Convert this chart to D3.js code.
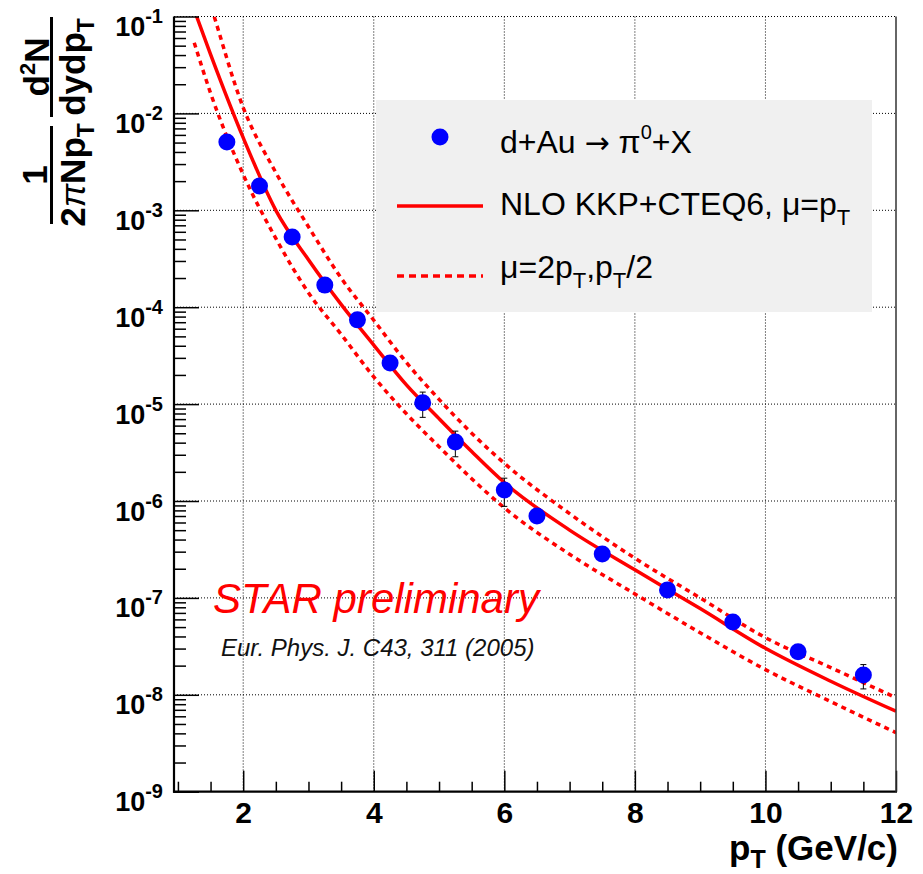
<!DOCTYPE html>
<html><head><meta charset="utf-8">
<script src="https://cdn.jsdelivr.net/npm/d3@7"></script>
<style>body{margin:0;background:#fff}</style>
</head><body>
<svg id="c" width="923" height="874"></svg>
<script>
// ---- data ----
const dataPt  = [1.75, 2.25, 2.75, 3.25, 3.75, 4.25, 4.75, 5.25, 6.0, 6.5, 7.5, 8.5, 9.5, 10.5, 11.5];
const dataVal = [5.07e-3, 1.78e-3, 5.3e-4, 1.69e-4, 7.4e-5, 2.65e-5, 1.03e-5, 4.06e-6, 1.30e-6, 7.0e-7, 2.84e-7, 1.21e-7, 5.65e-8, 2.78e-8, 1.6e-8];
const dataErr = [3e-4, 1e-4, 3e-5, 1e-5, 6e-6, 3e-6, 3e-6, 1.2e-6, 4.2e-7, 8e-8, 3e-8, 1.5e-8, 6e-9, 3e-9, 4.5e-9];

const curvePt    = [1.25, 1.5, 2.0, 2.5, 3.0, 3.5, 4.0, 4.5, 5.0, 5.5, 6.0, 7.0, 8.0, 9.0, 10.0, 11.0, 12.0];
const nloCentral = [1.17e-1, 4.07e-2, 5.62e-3, 1.00e-3, 3.09e-4, 1.07e-4, 4.07e-5, 1.58e-5, 7.08e-6, 3.24e-6, 1.55e-6, 5.01e-7, 1.95e-7, 7.76e-8, 3.02e-8, 1.38e-8, 6.76e-9];
const nloUpper   = [4.47e-1, 1.32e-1, 1.15e-2, 2.45e-3, 6.76e-4, 2.00e-4, 7.33e-5, 2.69e-5, 1.12e-5, 5.01e-6, 2.45e-6, 7.41e-7, 2.57e-7, 1.00e-7, 3.89e-8, 1.91e-8, 9.33e-9];
const nloLower   = [5.37e-2, 1.62e-2, 2.34e-3, 5.13e-4, 1.41e-4, 5.25e-5, 1.91e-5, 7.94e-6, 3.63e-6, 1.70e-6, 8.51e-7, 2.82e-7, 1.10e-7, 4.37e-8, 1.82e-8, 8.51e-9, 4.07e-9];

const xMajor = [2, 4, 6, 8, 10, 12];
const yExp   = [-9, -8, -7, -6, -5, -4, -3, -2, -1];

// ---- layout ----
const L = 174, R = 896, T = 16.5, B = 791.7;
const FONT = "'Liberation Sans', Arial, Helvetica, sans-serif";
const svg = d3.select("#c");
const x = d3.scaleLinear().domain([0.94, 12]).range([L, R]);
const y = d3.scaleLog().domain([1e-9, 1e-1]).range([B, T]);

const yMajor = yExp.map(e => Math.pow(10, e));
const yMinor = [];
yExp.slice(0, -1).forEach(e => { for (let k = 2; k <= 9; k++) yMinor.push(k * Math.pow(10, e)); });
const xMinor = d3.range(1, 12.01, 0.5).filter(v => !xMajor.includes(v));

// ---- grid ----
const grid = svg.append("g").attr("stroke", "#000").attr("stroke-width", 1).attr("stroke-dasharray", "1,2");
xMajor.filter(v => v < 12).forEach(v => grid.append("line").attr("x1", x(v)).attr("x2", x(v)).attr("y1", T).attr("y2", B));
yMajor.filter(v => v > 1e-9).forEach(v => grid.append("line").attr("x1", L).attr("x2", R).attr("y1", y(v)).attr("y2", y(v)));

// ---- legend box ----
svg.append("rect").attr("x", 376).attr("y", 100).attr("width", 496).attr("height", 212).attr("fill", "#f0f0f0");

// ---- curves ----
svg.append("clipPath").attr("id", "clip").append("rect").attr("x", L).attr("y", T).attr("width", R - L).attr("height", B - T);
const line = d3.line().x(d => x(d[0])).y(d => y(d[1])).curve(d3.curveMonotoneX);
const cg = svg.append("g").attr("clip-path", "url(#clip)").attr("fill", "none").attr("stroke", "#ff0000");
cg.append("path").attr("d", line(curvePt.map((p, i) => [p, nloUpper[i]]))).attr("stroke-width", 3.5).attr("stroke-dasharray", "5,4.5");
cg.append("path").attr("d", line(curvePt.map((p, i) => [p, nloLower[i]]))).attr("stroke-width", 3.5).attr("stroke-dasharray", "5,4.5");
cg.append("path").attr("d", line(curvePt.map((p, i) => [p, nloCentral[i]]))).attr("stroke-width", 3.5);

// ---- error bars and markers ----
const eb = svg.append("g").attr("stroke", "#000").attr("stroke-width", 1);
dataPt.forEach((p, i) => {
  const xc = x(p), y1 = y(dataVal[i] + dataErr[i]), y2 = y(dataVal[i] - dataErr[i]);
  eb.append("line").attr("x1", xc).attr("x2", xc).attr("y1", y1).attr("y2", y2);
  eb.append("line").attr("x1", xc - 3).attr("x2", xc + 3).attr("y1", y1).attr("y2", y1);
  eb.append("line").attr("x1", xc - 3).attr("x2", xc + 3).attr("y1", y2).attr("y2", y2);
});
svg.append("g").selectAll("circle").data(dataPt).join("circle")
  .attr("cx", d => x(d)).attr("cy", (d, i) => y(dataVal[i])).attr("r", 8.5).attr("fill", "#0000ff");

// ---- axes ----
const ax = svg.append("g");
ax.append("g").attr("transform", `translate(0,${B})`)
  .call(d3.axisBottom(x).tickValues(xMinor).tickSize(-10).tickFormat(""))
  .call(g => g.select(".domain").remove());
const xa = ax.append("g").attr("transform", `translate(0,${B})`)
  .call(d3.axisBottom(x).tickValues(xMajor).tickSize(-21).tickPadding(31).tickFormat(d3.format("d")));
xa.select(".domain").remove();
xa.selectAll("text").attr("font-family", FONT).attr("font-weight", "bold").attr("font-size", 30).attr("fill", "#000").attr("dy", 0);
ax.selectAll("line").attr("stroke", "#000").attr("stroke-width", 1.5);

ax.append("g").attr("transform", `translate(${L},0)`)
  .call(d3.axisLeft(y).tickValues(yMinor).tickSize(-12).tickFormat(""))
  .call(g => g.select(".domain").remove())
  .selectAll("line").attr("stroke", "#000").attr("stroke-width", 1.5);
const ya = ax.append("g").attr("transform", `translate(${L},0)`)
  .call(d3.axisLeft(y).tickValues(yMajor).tickSize(-25).tickFormat(""));
ya.select(".domain").remove();
ya.selectAll("line").attr("stroke", "#000").attr("stroke-width", 1.5);
ya.selectAll(".tick").each(function (d, i) {
  const t = d3.select(this).append("text").attr("x", -11).attr("y", 0).attr("text-anchor", "end")
    .attr("font-family", FONT).attr("font-weight", "bold").attr("fill", "#000");
  t.append("tspan").attr("font-size", 27).attr("dy", 19).text("10");
  t.append("tspan").attr("font-size", 20).attr("dy", -13).text(String(yExp[i]));
});

// frame
svg.append("line").attr("x1", L).attr("x2", L).attr("y1", T).attr("y2", B + 1).attr("stroke", "#000").attr("stroke-width", 2.2);
svg.append("line").attr("x1", L - 1).attr("x2", R + 1).attr("y1", B).attr("y2", B).attr("stroke", "#000").attr("stroke-width", 2.2);
svg.append("line").attr("x1", R).attr("x2", R).attr("y1", T).attr("y2", B).attr("stroke", "#333").attr("stroke-width", 1.5);
svg.append("line").attr("x1", L).attr("x2", R).attr("y1", T).attr("y2", T).attr("stroke", "#000").attr("stroke-width", 1).attr("stroke-dasharray", "1,2");

// ---- axis titles ----
const xt = svg.append("text").attr("x", 898).attr("y", 860).attr("text-anchor", "end")
  .attr("font-family", FONT).attr("font-weight", "bold").attr("font-size", 35).attr("fill", "#000");
xt.append("tspan").text("p");
xt.append("tspan").attr("font-size", 25).attr("dy", 8).text("T");
xt.append("tspan").attr("dy", -8).text(" (GeV/c)");

const yt = svg.append("g").attr("transform", "translate(51.5,0) rotate(-90)")
  .attr("font-family", FONT).attr("font-weight", "bold").attr("font-size", 35).attr("fill", "#000");
yt.append("line").attr("x1", -224).attr("x2", -126).attr("y1", 0).attr("y2", 0).attr("stroke", "#000").attr("stroke-width", 3);
yt.append("line").attr("x1", -117).attr("x2", -17).attr("y1", 0).attr("y2", 0).attr("stroke", "#000").attr("stroke-width", 3);
yt.append("text").attr("x", -175).attr("y", -5).attr("text-anchor", "middle").text("1");
const dn1 = yt.append("text").attr("x", -175).attr("y", 33).attr("text-anchor", "middle");
dn1.append("tspan").text("2");
dn1.append("tspan").attr("font-weight", "normal").attr("font-style", "italic").text("π");
dn1.append("tspan").text("Np");
dn1.append("tspan").attr("font-size", 23).attr("dy", 9).text("T");
const nm2 = yt.append("text").attr("x", -67).attr("y", -3).attr("text-anchor", "middle");
nm2.append("tspan").text("d");
nm2.append("tspan").attr("font-size", 22).attr("dy", -14).text("2");
nm2.append("tspan").attr("dy", 14).text("N");
const dn2 = yt.append("text").attr("x", -67).attr("y", 33).attr("text-anchor", "middle");
dn2.append("tspan").text("dydp");
dn2.append("tspan").attr("font-size", 23).attr("dy", 9).text("T");

// ---- legend content ----
const lg = svg.append("g").attr("font-family", FONT).attr("font-size", 32).attr("fill", "#000");
lg.append("circle").attr("cx", 440).attr("cy", 137).attr("r", 8.5).attr("fill", "#0000ff");
lg.append("line").attr("x1", 397).attr("x2", 483).attr("y1", 206).attr("y2", 206).attr("stroke", "#ff0000").attr("stroke-width", 3.5);
lg.append("line").attr("x1", 397).attr("x2", 483).attr("y1", 276).attr("y2", 276).attr("stroke", "#ff0000").attr("stroke-width", 3.5).attr("stroke-dasharray", "7,5");
const l1 = lg.append("text").attr("x", 500).attr("y", 153);
l1.append("tspan").text("d+Au ");
l1.append("tspan").attr("font-family", "'DejaVu Sans', sans-serif").attr("font-size", 30).text("\u2192");
l1.append("tspan").text(" \u03c0");
l1.append("tspan").attr("font-size", 20).attr("dy", -14).text("0");
l1.append("tspan").attr("dy", 14).text("+X");
const l2 = lg.append("text").attr("x", 500).attr("y", 215);
l2.append("tspan").text("NLO KKP+CTEQ6, \u03bc=p");
l2.append("tspan").attr("font-size", 22).attr("dy", 10).text("T");
const l3 = lg.append("text").attr("x", 500).attr("y", 278);
l3.append("tspan").text("\u03bc=2p");
l3.append("tspan").attr("font-size", 22).attr("dy", 10).text("T");
l3.append("tspan").attr("dy", -10).text(",p");
l3.append("tspan").attr("font-size", 22).attr("dy", 10).text("T");
l3.append("tspan").attr("dy", -10).text("/2");

// ---- annotations ----
svg.append("text").attr("x", 213).attr("y", 613).attr("font-family", FONT).attr("font-style", "italic")
  .attr("font-size", 42).attr("fill", "#ff0000").text("STAR preliminary");
svg.append("text").attr("x", 221).attr("y", 656).attr("font-family", FONT).attr("font-style", "italic")
  .attr("font-size", 24).attr("fill", "#111").text("Eur. Phys. J. C43, 311 (2005)");
</script>
</body></html>
